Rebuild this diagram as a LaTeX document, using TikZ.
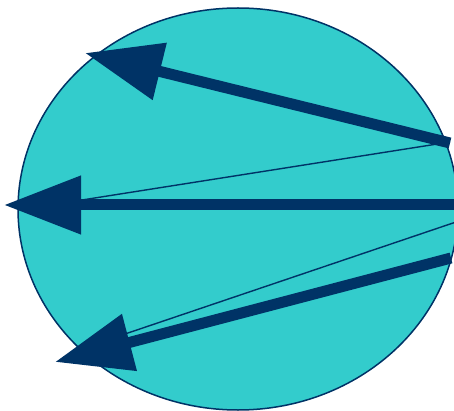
\documentclass[tikz,border=0pt]{standalone}
\usetikzlibrary{arrows.meta}
\definecolor{tealfill}{HTML}{33CCCC}
\definecolor{navy}{HTML}{003366}
\begin{document}
\begin{tikzpicture}[x=1pt,y=-1pt,
  thickarrow/.style={draw=navy,line width=11pt,-{Triangle[length=77pt,width=56pt]}},
  thinline/.style={draw=navy,line width=1.4pt}]
\useasboundingbox (0,0) rectangle (454,411);
\fill[tealfill,draw=navy,line width=1.5pt] (238,209) ellipse [x radius=220, y radius=201];
\coordinate (s1) at (450,143);
\coordinate (t1) at (85,53);
\coordinate (s2) at (456,205);
\coordinate (t2) at (4,205);
\coordinate (s3) at (451,258);
\coordinate (t3) at (55,362);
\coordinate (a1) at (450,142);
\coordinate (b1) at (82,200);
\coordinate (a2) at (456,222);
\coordinate (b2) at (125,334);
\draw[thinline] (a1) -- (b1);
\draw[thinline] (a2) -- (b2);
\draw[thickarrow] (s1) -- (t1);
\draw[thickarrow] (s2) -- (t2);
\draw[thickarrow] (s3) -- (t3);
\end{tikzpicture}
\end{document}
